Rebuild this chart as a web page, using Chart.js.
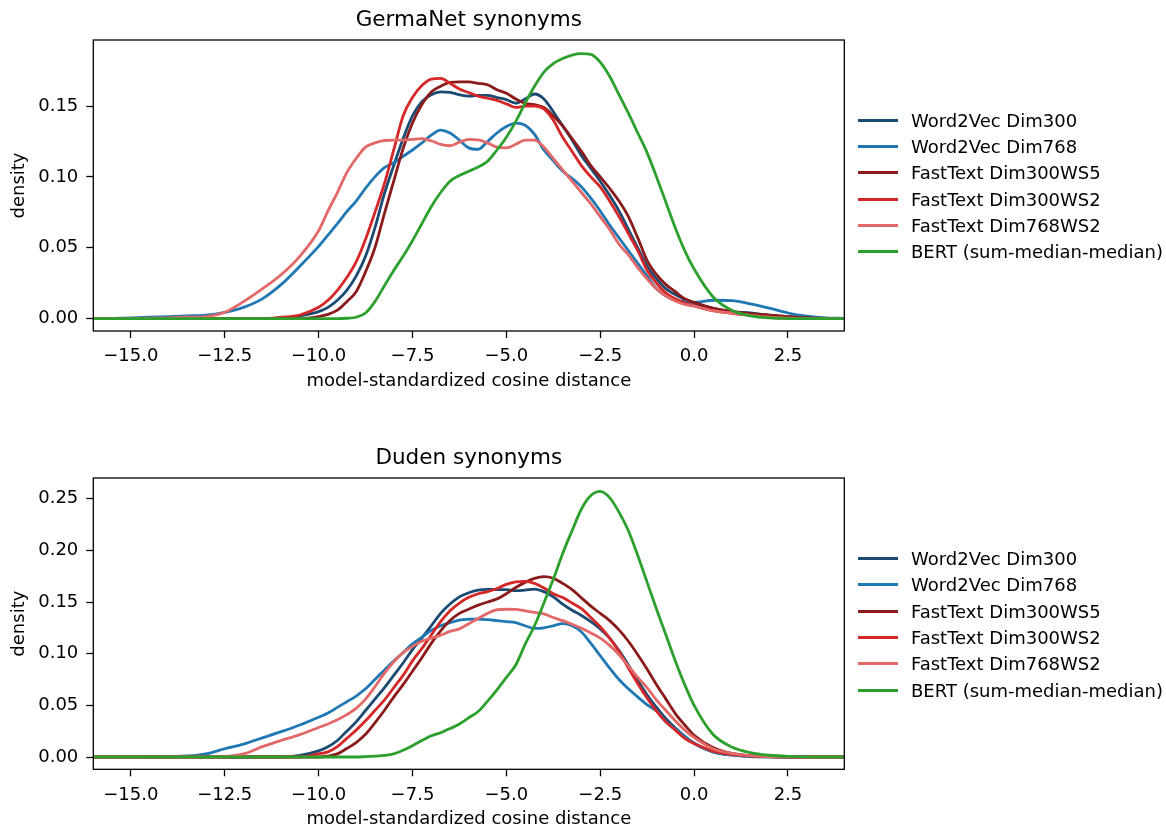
<!DOCTYPE html>
<html>
<head>
<meta charset="utf-8">
<script src="https://cdn.jsdelivr.net/npm/chart.js@4.4.1/dist/chart.umd.min.js"></script>
<style>
  body { margin: 0; background: #fff; width: 1166px; height: 830px; position: relative; overflow: hidden; font-family: 'DejaVu Sans', sans-serif; }
  .panel { position: absolute; left: 0; width: 1166px; }
  .legend { position: absolute; left: 858px; top: 0; }
  .legend-row { position: absolute; left: 0; height: 22px; display: flex; align-items: center; white-space: nowrap; font-size: 18px; color: #000; }
  .legend-line { width: 40px; height: 3px; margin-right: 13px; }
</style>
</head>
<body>
<div class="panel" style="top:0;height:415px"><canvas id="chartTop" width="1166" height="415"></canvas></div>
<div class="panel" style="top:438px;height:392px"><canvas id="chartBottom" width="1166" height="392"></canvas></div>
<div class="legend" id="legendTop"></div>
<div class="legend" id="legendBottom"></div>
<script>
// x grid (finer in the middle where the curves wiggle)
const xs = [-16, -15.5, -15, -14.5, -14, -13.5, -13, -12.5, -12, -11.5, -11, -10.5,
    -10, -9.75, -9.5, -9.25, -9, -8.75, -8.5, -8.25, -8, -7.75,
    -7.5, -7.25, -7, -6.75, -6.5, -6.25, -6, -5.75, -5.5, -5.25,
    -5, -4.75, -4.5, -4.25, -4, -3.75, -3.5, -3.25, -3, -2.75,
    -2.5, -2.25, -2, -1.75, -1.5, -1.25, -1, -0.75, -0.5, -0.25,
    0, 0.5, 1, 1.5, 2, 2.5, 3, 3.5, 4];

const xTicks = [-15, -12.5, -10, -7.5, -5, -2.5, 0, 2.5];
const yTicksTop = [0, 0.05, 0.1, 0.15];
const yTicksBottom = [0, 0.05, 0.1, 0.15, 0.2, 0.25];

const labels = ['Word2Vec Dim300', 'Word2Vec Dim768', 'FastText Dim300WS5', 'FastText Dim300WS2', 'FastText Dim768WS2', 'BERT (sum-median-median)'];
const colors = ['#1b4a72', '#1f77b4', '#8b1a1a', '#d62728', '#e36868', '#2ca02c'];

// GermaNet synonyms
const gnW300 = [0, 0, 0, 0, 0, 0, 0, 0, 0, 0, 0, 0.002,
    0.005, 0.008, 0.013, 0.020, 0.030, 0.044, 0.064, 0.088, 0.108, 0.127,
    0.143, 0.153, 0.158, 0.160, 0.1597, 0.158, 0.157, 0.1575, 0.1575, 0.156,
    0.1545, 0.152, 0.155, 0.1585, 0.155, 0.146, 0.136, 0.126, 0.115, 0.106,
    0.097, 0.087, 0.076, 0.063, 0.050, 0.037, 0.028, 0.021, 0.017, 0.0135,
    0.011, 0.0073, 0.005, 0.004, 0.0025, 0.0015, 0.0007, 0.0002, 0];
const gnW768 = [0, 0.0002, 0.0005, 0.001, 0.0015, 0.002, 0.0025, 0.0045, 0.008, 0.014, 0.024, 0.037,
    0.051, 0.059, 0.067, 0.0755, 0.083, 0.092, 0.100, 0.1065, 0.110, 0.1145,
    0.119, 0.124, 0.1295, 0.133, 0.131, 0.126, 0.1205, 0.1195, 0.125, 0.131,
    0.1355, 0.138, 0.1365, 0.130, 0.119, 0.1115, 0.104, 0.099, 0.093, 0.085,
    0.076, 0.066, 0.057, 0.048, 0.039, 0.030, 0.021, 0.016, 0.013, 0.012,
    0.0115, 0.013, 0.0127, 0.0105, 0.0075, 0.004, 0.0018, 0.0006, 0.0002];
const gnF5 = [0, 0, 0, 0, 0, 0, 0, 0, 0, 0, 0, 0,
    0.0015, 0.003, 0.006, 0.012, 0.019, 0.033, 0.050, 0.074, 0.097, 0.120,
    0.138, 0.151, 0.160, 0.164, 0.1667, 0.167, 0.167, 0.166, 0.165, 0.1615,
    0.159, 0.155, 0.152, 0.151, 0.149, 0.143, 0.136, 0.127, 0.118, 0.108,
    0.100, 0.092, 0.083, 0.072, 0.057, 0.041, 0.031, 0.024, 0.019, 0.014,
    0.0115, 0.0075, 0.0052, 0.0036, 0.0025, 0.0015, 0.0007, 0.0002, 0];
const gnF2 = [0, 0, 0, 0, 0, 0, 0, 0, 0, 0, 0.001, 0.0026,
    0.008, 0.013, 0.020, 0.029, 0.040, 0.056, 0.075, 0.095, 0.119, 0.143,
    0.156, 0.1645, 0.169, 0.1695, 0.166, 0.162, 0.1595, 0.157, 0.1555, 0.154,
    0.1515, 0.149, 0.150, 0.150, 0.148, 0.140, 0.128, 0.118, 0.108, 0.100,
    0.093, 0.083, 0.072, 0.060, 0.048, 0.034, 0.025, 0.018, 0.014, 0.011,
    0.009, 0.0056, 0.0038, 0.0023, 0.001, 0.0004, 0.0001, 0, 0];
const gnF768 = [0, 0, 0.0001, 0.0003, 0.0006, 0.001, 0.0015, 0.0045, 0.012, 0.021, 0.031, 0.044,
    0.062, 0.076, 0.089, 0.103, 0.113, 0.121, 0.124, 0.1257, 0.126, 0.126,
    0.1265, 0.127, 0.1255, 0.123, 0.122, 0.1245, 0.1265, 0.1262, 0.124, 0.121,
    0.1205, 0.123, 0.126, 0.126, 0.121, 0.113, 0.105, 0.097, 0.089, 0.081,
    0.072, 0.063, 0.0525, 0.045, 0.036, 0.028, 0.021, 0.016, 0.0125, 0.010,
    0.0088, 0.0056, 0.004, 0.0023, 0.001, 0.0004, 0.0001, 0, 0];
const gnBert = [0, 0, 0, 0, 0, 0, 0, 0, 0, 0, 0, 0,
    0, 0, 0, 0.0003, 0.001, 0.004, 0.012, 0.023, 0.034, 0.044,
    0.055, 0.067, 0.079, 0.089, 0.097, 0.101, 0.104, 0.107, 0.111, 0.119,
    0.128, 0.139, 0.152, 0.164, 0.174, 0.180, 0.1835, 0.186, 0.187, 0.1865,
    0.181, 0.171, 0.158, 0.145, 0.131, 0.117, 0.100, 0.082, 0.064, 0.048,
    0.035, 0.0155, 0.006, 0.002, 0.0005, 0.0001, 0, 0, 0];

// Duden synonyms
const duW300 = [0, 0, 0, 0, 0, 0, 0, 0, 0, 0, 0, 0.0016,
    0.006, 0.010, 0.016, 0.025, 0.034, 0.045, 0.056, 0.067, 0.079, 0.091,
    0.104, 0.115, 0.127, 0.139, 0.148, 0.155, 0.159, 0.1615, 0.1622, 0.162,
    0.162, 0.161, 0.1615, 0.1625, 0.160, 0.155, 0.148, 0.142, 0.137, 0.131,
    0.124, 0.115, 0.103, 0.089, 0.074, 0.060, 0.048, 0.037, 0.028, 0.020,
    0.013, 0.005, 0.002, 0.0006, 0.0002, 0, 0, 0, 0];
const duW768 = [0, 0, 0.0001, 0.0003, 0.0006, 0.001, 0.003, 0.008, 0.0125, 0.0185, 0.0245, 0.031,
    0.0385, 0.0425, 0.048, 0.0535, 0.059, 0.066, 0.075, 0.084, 0.093, 0.101,
    0.1095, 0.116, 0.1225, 0.127, 0.130, 0.1325, 0.1333, 0.1335, 0.133, 0.132,
    0.131, 0.130, 0.127, 0.1245, 0.125, 0.127, 0.129, 0.127, 0.121, 0.110,
    0.098, 0.086, 0.075, 0.066, 0.058, 0.0505, 0.0445, 0.034, 0.027, 0.020,
    0.0135, 0.005, 0.002, 0.0005, 0.0001, 0, 0, 0, 0];
const duF5 = [0, 0, 0, 0, 0, 0, 0, 0, 0, 0, 0, 0,
    0, 0.0008, 0.003, 0.0082, 0.014, 0.022, 0.033, 0.045, 0.058, 0.070,
    0.083, 0.096, 0.110, 0.122, 0.132, 0.139, 0.143, 0.147, 0.150, 0.153,
    0.158, 0.164, 0.169, 0.1728, 0.1745, 0.173, 0.168, 0.162, 0.154, 0.146,
    0.139, 0.132, 0.123, 0.112, 0.099, 0.085, 0.070, 0.056, 0.042, 0.031,
    0.021, 0.0092, 0.0035, 0.0012, 0.0004, 0.0001, 0, 0, 0];
const duF2 = [0, 0, 0, 0, 0, 0, 0, 0, 0, 0, 0, 0,
    0.003, 0.005, 0.010, 0.018, 0.026, 0.035, 0.045, 0.055, 0.067, 0.079,
    0.093, 0.105, 0.118, 0.131, 0.1415, 0.149, 0.1545, 0.158, 0.160, 0.163,
    0.167, 0.1695, 0.170, 0.168, 0.1635, 0.158, 0.1543, 0.149, 0.1435, 0.135,
    0.126, 0.115, 0.102, 0.086, 0.071, 0.057, 0.0445, 0.034, 0.026, 0.018,
    0.013, 0.0057, 0.0025, 0.001, 0.0003, 0.0001, 0, 0, 0];
const duF768 = [0, 0, 0, 0, 0, 0, 0, 0.0005, 0.003, 0.010, 0.016, 0.0216,
    0.0285, 0.032, 0.036, 0.041, 0.047, 0.056, 0.068, 0.081, 0.092, 0.101,
    0.107, 0.112, 0.115, 0.118, 0.1215, 0.124, 0.129, 0.134, 0.139, 0.1425,
    0.143, 0.1428, 0.1415, 0.140, 0.1385, 0.135, 0.132, 0.1285, 0.1245, 0.120,
    0.115, 0.108, 0.099, 0.088, 0.077, 0.067, 0.055, 0.045, 0.035, 0.026,
    0.019, 0.008, 0.0035, 0.0013, 0.0004, 0.0001, 0, 0, 0];
const duBert = [0, 0, 0, 0, 0, 0, 0, 0, 0, 0, 0, 0,
    0, 0, 0, 0, 0, 0.0003, 0.0008, 0.0015, 0.003, 0.0065,
    0.011, 0.016, 0.0205, 0.0235, 0.0275, 0.032, 0.038, 0.044, 0.054, 0.065,
    0.077, 0.089, 0.109, 0.127, 0.149, 0.172, 0.197, 0.219, 0.240, 0.253,
    0.257, 0.251, 0.237, 0.219, 0.195, 0.169, 0.143, 0.118, 0.093, 0.070,
    0.050, 0.022, 0.0097, 0.0042, 0.0017, 0.0006, 0.0002, 0, 0];

Chart.defaults.font.family = "'DejaVu Sans', sans-serif";
Chart.defaults.color = '#000';

const fmtX = v => (v < 0 ? '\u2212' + Math.abs(v).toFixed(1) : v.toFixed(1));

// matplotlib-style box around the plot area
const framePlugin = {
    id: 'frame',
    afterDatasetsDraw(chart) {
        const {ctx, chartArea: a} = chart;
        ctx.save();
        ctx.strokeStyle = '#000';
        ctx.lineWidth = 1.3;
        ctx.strokeRect(a.left, a.top, a.right - a.left, a.bottom - a.top);
        ctx.restore();
    }
};

function makeChart(id, title, series, yMin, yMax, yTicks, xAxisHeight, xTitlePad) {
    const tickGrid = {
        drawOnChartArea: false,
        drawTicks: true,
        tickLength: 7,
        tickColor: '#000',
        tickWidth: 1.3
    };
    return new Chart(document.getElementById(id), {
        type: 'line',
        data: {
            datasets: series.map((s, i) => ({
                label: labels[i],
                data: xs.map((x, j) => ({x: x, y: s[j]})),
                borderColor: colors[i],
                backgroundColor: colors[i],
                borderWidth: 2.8,
                pointRadius: 0,
                cubicInterpolationMode: 'monotone',
                fill: false,
                order: series.length - i
            }))
        },
        options: {
            responsive: false,
            animation: false,
            events: [],
            layout: { padding: { left: 0, right: 321.7, top: 0, bottom: 0 } },
            plugins: {
                legend: { display: false },
                tooltip: { enabled: false },
                title: {
                    display: true,
                    text: title,
                    fullSize: false,
                    color: '#000',
                    font: { size: 21.5, weight: 'normal' },
                    padding: { top: 7.2, bottom: 7 }
                }
            },
            scales: {
                x: {
                    type: 'linear',
                    min: -16,
                    max: 4,
                    afterBuildTicks: s => { s.ticks = xTicks.map(v => ({value: v})); },
                    afterFit: s => { s.height = xAxisHeight; },
                    ticks: { callback: fmtX, font: { size: 18 }, padding: 8, maxRotation: 0, autoSkip: false },
                    grid: tickGrid,
                    border: { display: false },
                    title: {
                        display: true,
                        text: 'model-standardized cosine distance',
                        font: { size: 18 },
                        padding: { top: 0, bottom: xTitlePad }
                    }
                },
                y: {
                    type: 'linear',
                    min: yMin,
                    max: yMax,
                    afterBuildTicks: s => { s.ticks = yTicks.map(v => ({value: v})); },
                    afterFit: s => { s.width = 93.3; },
                    ticks: { callback: v => v.toFixed(2), font: { size: 18 }, padding: 8 },
                    grid: tickGrid,
                    border: { display: false },
                    title: {
                        display: true,
                        text: 'density',
                        font: { size: 18 },
                        padding: { top: 8.2, bottom: 0 }
                    }
                }
            }
        },
        plugins: [framePlugin]
    });
}

function buildLegend(chart, elId, firstRowY) {
    const box = document.getElementById(elId);
    chart.data.datasets.forEach((ds, i) => {
        const row = document.createElement('div');
        row.className = 'legend-row';
        row.style.top = Math.round(firstRowY + i * 26.3 - 11) + 'px';
        const line = document.createElement('div');
        line.className = 'legend-line';
        line.style.background = ds.borderColor;
        const txt = document.createElement('span');
        txt.textContent = ds.label;
        row.appendChild(line);
        row.appendChild(txt);
        box.appendChild(row);
    });
}

const topChart = makeChart('chartTop', 'GermaNet synonyms',
    [gnW300, gnW768, gnF5, gnF2, gnF768, gnBert], -0.0087, 0.1966, yTicksTop, 84, 22.7);
const bottomChart = makeChart('chartBottom', 'Duden synonyms',
    [duW300, duW768, duF5, duF2, duF768, duBert], -0.0119, 0.270, yTicksBottom, 60.7, 0);

buildLegend(topChart, 'legendTop', 119.75);
buildLegend(bottomChart, 'legendBottom', 558);
</script>
</body>
</html>
